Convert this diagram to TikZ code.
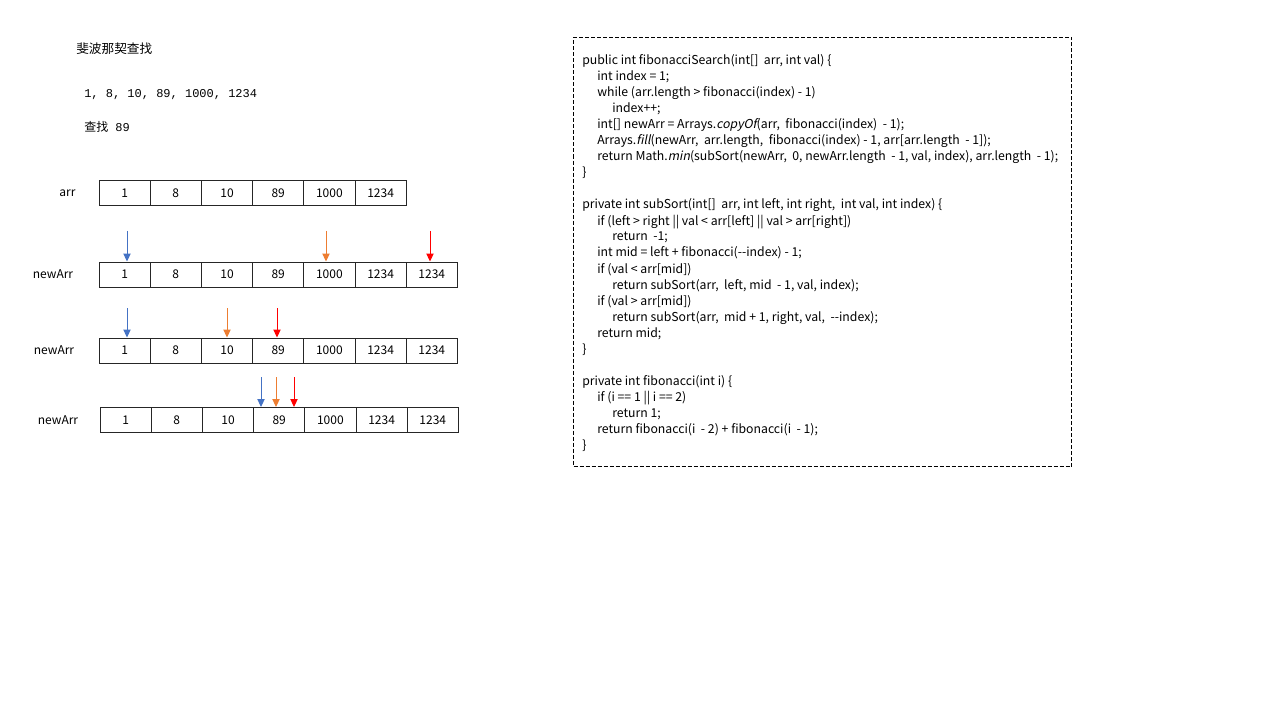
\documentclass[tikz,border=0pt]{standalone}
\usepackage{fontspec}
\setmainfont{Noto Sans CJK SC}
\setmonofont{Liberation Mono}
\newfontfamily\cjk{Noto Sans CJK SC}
\newfontfamily\codeit{Noto Sans CJK SC}[FakeSlant=0.2]
\usetikzlibrary{arrows.meta}
\definecolor{pblue}{HTML}{4472C4}
\definecolor{porange}{HTML}{ED7D31}
\definecolor{pred}{HTML}{FF0000}
\begin{document}
\begin{tikzpicture}[x=0.75pt,y=-0.75pt,
  cell/.style={draw=black!85, line width=0.75pt, minimum width=38.4pt, minimum height=18.75pt, inner sep=0pt, font=\fontsize{9}{10}\selectfont},
  lbl/.style={inner sep=0pt, font=\fontsize{9}{10}\selectfont},
  ptr/.style={-{Triangle[width=5.5pt,length=6pt]}, line width=0.75pt},
  codeline/.style={anchor=base west, inner sep=0pt, font=\fontsize{9.2}{10}\selectfont},
  codebox/.style={draw=black, dashed, dash pattern=on 3pt off 1.5pt, line width=0.75pt, inner sep=0pt, anchor=north west}]
\fill[white] (0,0) rectangle (1280,720);
\useasboundingbox (0,0) rectangle (1280,720);

% header texts
\node[anchor=west, inner sep=0pt, font=\fontsize{9.5}{10}\selectfont] (title) at (76,49) {斐波那契查找};
\node[anchor=west, inner sep=0pt, font=\ttfamily\fontsize{9}{10}\selectfont] (nums) at (84,95) {1, 8, 10, 89, 1000, 1234};
\node[anchor=west, inner sep=0pt, font=\fontsize{9}{10}\selectfont] (find) at (84,126.5) {{\cjk 查找}\texttt{ 89}};

% arr
\node[lbl] (arrlbl) at (67.5,193.5) {arr};
\foreach \v [count=\i from 0] in {1,8,10,89,1000,1234}
  \node[cell] (a\i) at ({124.6+51.2*\i},193.5) {\v};

% newArr rows
\node[lbl] (l1) at (53,274.5) {newArr};
\foreach \v [count=\i from 0] in {1,8,10,89,1000,1234,1234}
  \node[cell] (b\i) at ({124.6+51.2*\i},274.5) {\v};
\node[lbl] (l2) at (54,350.5) {newArr};
\foreach \v [count=\i from 0] in {1,8,10,89,1000,1234,1234}
  \node[cell] (c\i) at ({124.6+51.2*\i},350.5) {\v};
\node[lbl] (l3) at (58,420) {newArr};
\foreach \v [count=\i from 0] in {1,8,10,89,1000,1234,1234}
  \node[cell] (d\i) at ({125.6+51.2*\i},420) {\v};

% pointers row 1
\coordinate (p1b) at (127,231);
\coordinate (p1o) at (326,231);
\coordinate (p1r) at (430,231);
\draw[ptr, pblue] (p1b) -- (p1b |- b0.north);
\draw[ptr, porange] (p1o) -- (p1o |- b4.north);
\draw[ptr, pred] (p1r) -- (p1r |- b6.north);
% pointers row 2
\coordinate (p2b) at (127,308);
\coordinate (p2o) at (227,308);
\coordinate (p2r) at (277,308);
\draw[ptr, pblue] (p2b) -- (p2b |- c0.north);
\draw[ptr, porange] (p2o) -- (p2o |- c2.north);
\draw[ptr, pred] (p2r) -- (p2r |- c3.north);
% pointers row 3
\coordinate (p3b) at (261,377);
\coordinate (p3o) at (276,377);
\coordinate (p3r) at (294,377);
\draw[ptr, pblue] (p3b) -- (p3b |- d3.north);
\draw[ptr, porange] (p3o) -- (p3o |- d3.north);
\draw[ptr, pred] (p3r) -- (p3r |- d3.north);

% code box
\node[codebox, minimum width=373.5pt, minimum height=321.75pt] (box) at (573,37) {};
\node[codeline] (L0) at (582,65) {public int fibonacciSearch(int[]\ \ arr, int val) \{};
\node[codeline] (L1) at (597,81) {int index = 1;};
\node[codeline] (L2) at (597,97) {while (arr.length > fibonacci(index) - 1)};
\node[codeline] (L3) at (612,113) {index++;};
\node[codeline] (L4) at (597,129) {int[] newArr = Arrays.{\codeit copyOf}(arr,\ \ fibonacci(index)\ \ - 1);};
\node[codeline] (L5) at (597,145) {Arrays.{\codeit fill}(newArr,\ \ arr.length,\ \ fibonacci(index) - 1, arr[arr.length\ \ - 1]);};
\node[codeline] (L6) at (597,161) {return Math.{\codeit min}(subSort(newArr,\ \ 0, newArr.length\ \ - 1, val, index), arr.length\ \ - 1);};
\node[codeline] (L7) at (582,177) {\}};
\node[codeline] (L9) at (582,209) {private int subSort(int[]\ \ arr, int left, int right,\ \ int val, int index) \{};
\node[codeline] (L10) at (597,225) {if (left > right || val < arr[left] || val > arr[right])};
\node[codeline] (L11) at (612,241) {return\ \ -1;};
\node[codeline] (L12) at (597,257) {int mid = left + fibonacci(-{}-index) - 1;};
\node[codeline] (L13) at (597,273) {if (val < arr[mid])};
\node[codeline] (L14) at (612,289) {return subSort(arr,\ \ left, mid\ \ - 1, val, index);};
\node[codeline] (L15) at (597,305) {if (val > arr[mid])};
\node[codeline] (L16) at (612,321) {return subSort(arr,\ \ mid + 1, right, val,\ \ -{}-index);};
\node[codeline] (L17) at (597,337) {return mid;};
\node[codeline] (L18) at (582,353) {\}};
\node[codeline] (L20) at (582,385) {private int fibonacci(int i) \{};
\node[codeline] (L21) at (597,401) {if (i == 1 || i == 2)};
\node[codeline] (L22) at (612,417) {return 1;};
\node[codeline] (L23) at (597,433) {return fibonacci(i\ \ - 2) + fibonacci(i\ \ - 1);};
\node[codeline] (L24) at (582,449) {\}};
\end{tikzpicture}
\end{document}
